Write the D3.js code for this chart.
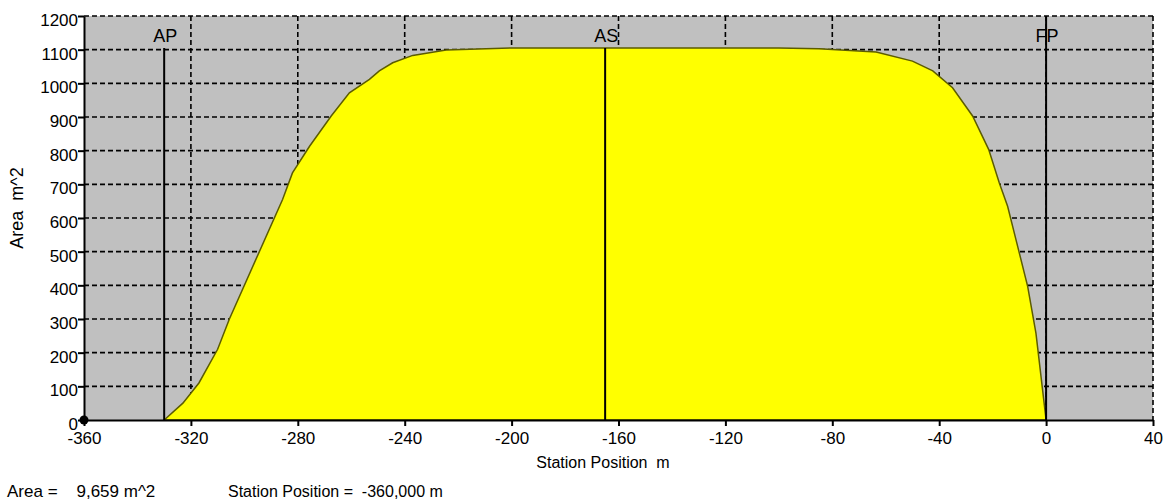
<!DOCTYPE html>
<html>
<head>
<meta charset="utf-8">
<script src="https://cdn.jsdelivr.net/npm/d3@7"></script>
<style>
  body { margin: 0; background: #fff; }
  svg { display: block; font-family: "Liberation Sans", Arial, sans-serif; }
  svg text { white-space: pre; }
  .grid line { stroke: #000; stroke-width: 1.6; stroke-dasharray: 5,3; }
  .axis path, .axis line { stroke: #000; stroke-width: 2; }
  .axis text { font-size: 17px; fill: #000; font-family: "Liberation Sans", Arial, sans-serif; }
</style>
</head>
<body>
<div id="chart"></div>
<script>
// Данные кривой площадей шпангоутов
const stationX = [-330, -323, -317, -310, -305.6, -285.7, -282, -275.6, -267.5, -260.7, -253.2,
  -249.5, -244.5, -237, -224.5, -200, -100, -85, -63.6, -50, -42.4, -35, -27.5, -21.5,
  -17.5, -14.4, -6.9, -3.8, 0];
const areaVals = [0, 50, 110, 210, 300, 655, 734, 813, 903, 972, 1012,
  1037, 1061, 1083, 1099, 1105, 1105, 1103, 1093, 1066, 1037, 987, 903, 804,
  704, 635, 397, 258, 0];

const xTicks = [-360, -320, -280, -240, -200, -160, -120, -80, -40, 0, 40];
const yTicks = [0, 100, 200, 300, 400, 500, 600, 700, 800, 900, 1000, 1100, 1200];

const markerNames = ["AP", "AS", "FP"];
const markerPos = [-330, -165, 0];
const markerTop = [1105, 1105, 1200];

const cursorX = -360, cursorArea = 0;
const infoArea = "Area =    9,659 m^2";
const infoStation = "Station Position =  -360,000 m";

const W = 1168, H = 501;
const plot = { left: 84, right: 1153, top: 16, bottom: 420 };

const svg = d3.select("#chart").append("svg")
  .attr("width", W).attr("height", H);

const x = d3.scaleLinear().domain([-360, 40]).range([plot.left, plot.right]);
const y = d3.scaleLinear().domain([0, 1200]).range([plot.bottom, plot.top]);

// фон
svg.append("rect")
  .attr("x", plot.left).attr("y", plot.top)
  .attr("width", plot.right - plot.left).attr("height", plot.bottom - plot.top)
  .attr("fill", "#c0c0c0");

// сетка
const grid = svg.append("g").attr("class", "grid");
grid.selectAll(".h").data(yTicks.filter(d => d > 0)).enter().append("line")
  .attr("x1", plot.left).attr("x2", plot.right)
  .attr("y1", d => y(d)).attr("y2", d => y(d));
grid.selectAll(".v").data(xTicks.filter(d => d > -360)).enter().append("line")
  .attr("x1", d => x(d)).attr("x2", d => x(d))
  .attr("y1", plot.top).attr("y2", plot.bottom);

// площадь
const area = d3.area()
  .x((d, i) => x(stationX[i]))
  .y0(y(0))
  .y1(d => y(d));
svg.append("path")
  .datum(areaVals)
  .attr("d", area)
  .attr("fill", "#ffff00")
  .attr("stroke", "#5c5c00")
  .attr("stroke-width", 1.5);

// оси
svg.append("g").attr("class", "axis")
  .attr("transform", `translate(0,${plot.bottom})`)
  .call(d3.axisBottom(x).tickValues(xTicks).tickSize(6).tickSizeOuter(0)
    .tickPadding(6).tickFormat(d => String(d)));

const yAx = svg.append("g").attr("class", "axis")
  .attr("transform", `translate(${plot.left},0)`)
  .call(d3.axisLeft(y).tickValues(yTicks).tickSize(6).tickSizeOuter(0)
    .tickPadding(0).tickFormat(d => String(d)));
yAx.selectAll("text").attr("dy", "0.56em");

// линии AP, AS, FP
markerNames.forEach((name, i) => {
  svg.append("line")
    .attr("x1", x(markerPos[i])).attr("x2", x(markerPos[i]))
    .attr("y1", y(markerTop[i])).attr("y2", y(0))
    .attr("stroke", "#000").attr("stroke-width", 2);
  svg.append("text")
    .attr("x", x(markerPos[i]) + 1).attr("y", 42)
    .attr("text-anchor", "middle")
    .attr("font-size", 18)
    .text(name);
});

// курсор
svg.append("circle")
  .attr("cx", x(cursorX)).attr("cy", y(cursorArea))
  .attr("r", 4.5).attr("fill", "#000");

// подписи осей
svg.append("text")
  .attr("x", 603).attr("y", 468)
  .attr("text-anchor", "middle")
  .attr("font-size", 16)
  .text("Station Position  m");

svg.append("text")
  .attr("transform", "translate(23,208) rotate(-90)")
  .attr("text-anchor", "middle")
  .attr("font-size", 18)
  .text("Area  m^2");

// нижняя информация
svg.append("text").attr("x", 7).attr("y", 497).attr("font-size", 17)
  .text(infoArea);
svg.append("text").attr("x", 228).attr("y", 497).attr("font-size", 16)
  .text(infoStation);
</script>
</body>
</html>
